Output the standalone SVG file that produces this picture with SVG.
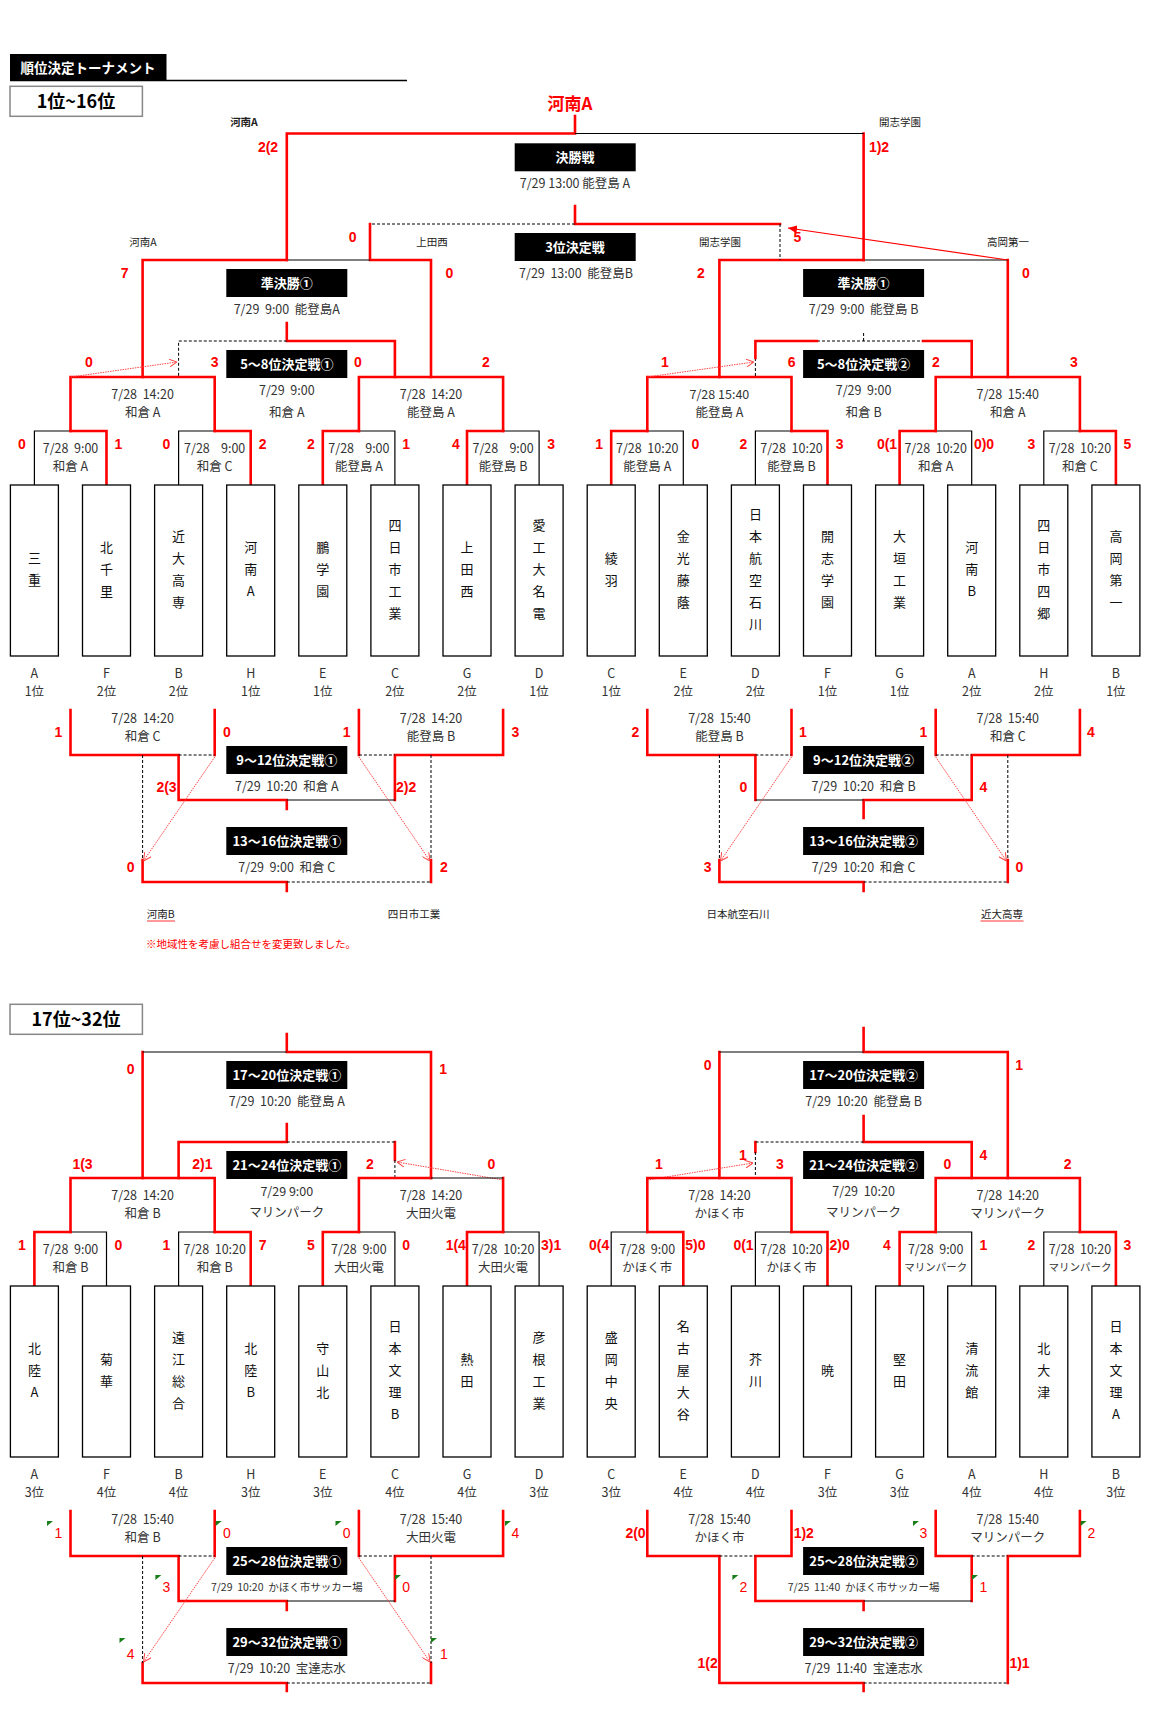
<svg xmlns="http://www.w3.org/2000/svg" width="1160" height="1712" viewBox="0 0 1160 1712">
<defs>
<style>
.r{stroke:#f00;stroke-width:2.6;fill:none;stroke-linecap:square}
.k{stroke:#000;stroke-width:1.2;fill:none}
.d{stroke:#000;stroke-width:1;stroke-dasharray:3 2;fill:none}
.ar{stroke:#f44;stroke-width:1;stroke-dasharray:1.5 1;fill:none}
.tb{fill:#fff;stroke:#000;stroke-width:1.3}
.bt{font-family:"Noto Sans CJK JP",sans-serif;font-weight:bold;font-size:13px;fill:#fff;text-anchor:middle}
.mi{font-family:"Noto Sans CJK JP",sans-serif;font-size:12.5px;fill:#333;text-anchor:middle}
.ms{font-family:"Noto Sans CJK JP",sans-serif;font-size:10.5px;fill:#333;text-anchor:middle}
.sc{font-family:"Liberation Sans",Arial,sans-serif;font-weight:bold;font-size:14px;fill:#f00;text-anchor:middle}
.sn{font-family:"Liberation Sans",Arial,sans-serif;font-size:14px;fill:#f00;text-anchor:middle}
.tn{font-family:"Noto Sans CJK JP",sans-serif;font-size:13px;fill:#111;text-anchor:middle}
.gl{font-family:"Noto Sans CJK JP",sans-serif;font-size:12.5px;fill:#333;text-anchor:middle}
.lb{font-family:"Noto Sans CJK JP",sans-serif;font-size:10.5px;fill:#222;text-anchor:middle}
</style>
<marker id="oa" viewBox="0 0 8 8" refX="8" refY="4" markerWidth="8" markerHeight="8" markerUnits="userSpaceOnUse" orient="auto"><path d="M0,0 L8,4 L0,8" fill="none" stroke="#f44" stroke-width="1"/></marker>
<marker id="fa" viewBox="0 0 9 8" refX="9" refY="4" markerWidth="9" markerHeight="8" markerUnits="userSpaceOnUse" orient="auto"><path d="M0,0 L9,4 L0,8 Z" fill="#f00"/></marker>
<path id="gt" d="M0,0 L6,0 L0,5 Z" fill="#1a7f1a"/>
</defs>
<rect width="1160" height="1712" fill="#fff"/>

<g id="header">
<line x1="10" y1="80.5" x2="407" y2="80.5" stroke="#000" stroke-width="1.3"/>
<rect x="10" y="54" width="156.5" height="26.7" fill="#000"/>
<text x="88" y="72.5" font-family="'Noto Sans CJK JP',sans-serif" font-weight="bold" font-size="13.5" fill="#fff" text-anchor="middle">順位決定トーナメント</text>
<rect x="10" y="86.3" width="132.4" height="30" fill="#fff" stroke="#888" stroke-width="1.5"/>
<text x="76" y="108" font-family="'Noto Sans CJK JP',sans-serif" font-weight="bold" font-size="18" fill="#000" text-anchor="middle">1位~16位</text>
<rect x="10" y="1004.3" width="132.4" height="30" fill="#fff" stroke="#888" stroke-width="1.5"/>
<text x="76" y="1026" font-family="'Noto Sans CJK JP',sans-serif" font-weight="bold" font-size="18" fill="#000" text-anchor="middle">17位~32位</text>
<text x="570" y="109.5" font-family="'Noto Sans CJK JP',sans-serif" font-weight="bold" font-size="17" fill="#f00" text-anchor="middle">河南A</text>
</g>

<g id="connectors">
<path class="k" d="M70.5,431 H34.4 V485 M214.7,431 H178.6 V485 M358.9,431 H394.9 V485 M503.1,431 H539.1 V485 M647.3,431 H683.3 V485 M791.5,431 H755.4 V485 M935.7,431 H971.7 V485 M1079.9,431 H1043.8 V485"/>
<path class="r" d="M70.5,431 H106.5 V485 M214.7,431 H250.7 V485 M358.9,431 H322.8 V485 M503.1,431 H467 V485 M647.3,431 H611.2 V485 M791.5,431 H827.5 V485 M935.7,431 H899.6 V485 M1079.9,431 H1115.9 V485"/>
<path class="r" d="M70.5,431 V377 H214.7 V431 M358.9,431 V377 H503.1 V431 M647.3,431 V377 H791.5 V431 M935.7,431 V377 H1079.9 V431"/>
<path class="r" d="M142.6,377 V260 H286.8 M370,260 H431 V377 M370,224 V260 M719.4,377 V260 H863.6 M1007.8,260 V377"/>
<path class="k" d="M286.8,260 H370 M863.6,260 H1007.8"/>
<path class="r" d="M286.8,260 V133.5 H575 M863.6,133.5 V260 M575,116 V133.5"/>
<path class="k" d="M575,133.5 H863.6"/>
<path class="r" d="M575,206 V224 H780"/>
<path class="d" d="M575,224 H370 M780,224 V260"/>
<line x1="1007.8" y1="260" x2="788" y2="228" stroke="#f00" stroke-width="1.2" marker-end="url(#fa)"/>
<path class="r" d="M286.8,323 V341 H394.9 V377"/>
<path class="d" d="M286.8,341 H178.6 V376"/>
<path class="ar" d="M70.5,377 L177,362" marker-end="url(#oa)"/>
<path class="d" d="M863.6,333 V341 M817,341 H923 M755.4,358 V377"/>
<path class="r" d="M755.4,358 V341 H817 M923,341 H971.7 V377"/>
<path class="ar" d="M647.3,377 L754,362" marker-end="url(#oa)"/>
<path class="r" d="M70.5,710 V755 H178.6 V800 H286.8 M214.7,710 V755 M358.9,710 V755 M503.1,710 V755 H394.9 V800 M286.8,800 V809 M142.6,860 V882 H286.8 M431,860 V882 M286.8,882 V891"/>
<path class="k" d="M286.8,800 H394.9"/>
<path class="d" d="M178.6,755 H214.7 M358.9,755 H394.9 M142.6,755 V860 M286.8,882 H431 M431,755 V860"/>
<path class="ar" d="M214.7,757 L143.5,861" marker-end="url(#oa)"/>
<path class="ar" d="M358.9,757 L430,861" marker-end="url(#oa)"/>
<path class="r" d="M647.3,710 V755 H755.4 V800 M791.5,710 V755 M863.6,800 H971.7 M863.6,800 V818 M935.7,710 V755 M1079.9,710 V755 H971.7 V800 M719.4,860 V882 H863.6 M1007.8,860 V882 M863.6,882 V891"/>
<path class="k" d="M755.4,800 H863.6"/>
<path class="d" d="M755.4,755 H791.5 M935.7,755 H971.7 M719.4,755 V860 M863.6,882 H1007.8 M1007.8,755 V860"/>
<path class="ar" d="M791.5,757 L720.5,861" marker-end="url(#oa)"/>
<path class="ar" d="M935.7,757 L1006.5,861" marker-end="url(#oa)"/>
<path class="r" d="M286.8,1034 V1052 H431 V1178 M142.6,1052 V1178 M286.8,1124 V1142 H178.6 V1178 M394.9,1142 V1160"/>
<path class="k" d="M286.8,1052 H142.6"/>
<path class="d" d="M286.8,1142 H394.9 M394.9,1160 V1178"/>
<path class="ar" d="M503.1,1180 L397,1162" marker-end="url(#oa)"/>
<path class="r" d="M863.6,1028 V1052 H1007.8 V1178 M719.4,1052 V1178 M863.6,1116 V1142 H971.7 V1178 M755.4,1142 V1152"/>
<path class="k" d="M863.6,1052 H719.4"/>
<path class="d" d="M863.6,1142 H755.4 M755.4,1152 V1178"/>
<path class="ar" d="M647.3,1180 L753,1163" marker-end="url(#oa)"/>
<path class="r" d="M70.5,1232 V1178 H214.7 V1232 M358.9,1232 V1178 H431 M503.1,1178 V1232 M647.3,1232 V1178 H791.5 V1232 M935.7,1232 V1178 H1079.9 V1232"/>
<path class="k" d="M431,1178 H503.1"/>
<path class="k" d="M70.5,1232 H106.5 V1286 M214.7,1232 H178.6 V1286 M358.9,1232 H394.9 V1286 M503.1,1232 H539.1 V1286 M647.3,1232 H611.2 V1286 M791.5,1232 H755.4 V1286 M935.7,1232 H971.7 V1286 M1079.9,1232 H1043.8 V1286"/>
<path class="r" d="M70.5,1232 H34.4 V1286 M214.7,1232 H250.7 V1286 M358.9,1232 H322.8 V1286 M503.1,1232 H467 V1286 M647.3,1232 H683.3 V1286 M791.5,1232 H827.5 V1286 M935.7,1232 H899.6 V1286 M1079.9,1232 H1115.9 V1286"/>
<path class="r" d="M70.5,1511 V1556 H178.6 V1601 H286.8 M214.7,1511 V1556 M358.9,1511 V1556 M503.1,1511 V1556 H394.9 V1601 M286.8,1601 V1610 M142.6,1663 V1683 H286.8 M431,1663 V1683 M286.8,1683 V1691"/>
<path class="k" d="M286.8,1601 H394.9"/>
<path class="d" d="M178.6,1556 H214.7 M358.9,1556 H394.9 M142.6,1556 V1663 M286.8,1683 H431 M431,1556 V1663"/>
<path class="ar" d="M214.7,1558 L143.5,1662" marker-end="url(#oa)"/>
<path class="ar" d="M358.9,1558 L430,1662" marker-end="url(#oa)"/>
<path class="r" d="M647.3,1511 V1556 H719.4 M755.4,1556 H791.5 V1511 M755.4,1556 V1601 H863.6 M719.4,1556 V1683 H863.6 M1007.8,1556 V1683 M935.7,1511 V1556 H971.7 V1601 M1007.8,1556 H1079.9 V1511 M863.6,1601 V1610 M863.6,1683 V1691"/>
<path class="k" d="M863.6,1601 H971.7"/>
<path class="d" d="M719.4,1556 H755.4 M971.7,1556 H1007.8 M863.6,1683 H1007.8"/>
</g>

<g id="indicators">
<use href="#gt" x="47" y="1521"/><use href="#gt" x="215.7" y="1521"/><use href="#gt" x="335.5" y="1521"/><use href="#gt" x="505" y="1521"/>
<use href="#gt" x="155.4" y="1575"/><use href="#gt" x="395" y="1575"/><use href="#gt" x="119.5" y="1638"/><use href="#gt" x="431" y="1638"/>
<use href="#gt" x="913" y="1521"/><use href="#gt" x="1080.6" y="1521"/><use href="#gt" x="732.4" y="1575"/><use href="#gt" x="972" y="1575"/>
</g>

<g id="match-boxes">
<rect x="514.7" y="143.3" width="121" height="28" fill="#000"/><text class="bt" x="575" y="162">決勝戦</text>
<text class="mi" x="575" y="187.5">7/29 13:00  能登島 A</text>
<rect x="514.7" y="233" width="121" height="28" fill="#000"/><text class="bt" x="575" y="251.8">3位決定戦</text>
<text class="mi" x="576" y="277.5">7/29&#160; 13:00&#160; 能登島B</text>
<rect x="226.3" y="269" width="121" height="28" fill="#000"/><text class="bt" x="286.8" y="287.8">準決勝①</text>
<text class="mi" x="286.8" y="313.5">7/29&#160; 9:00&#160; 能登島A</text>
<rect x="803.1" y="269" width="121" height="28" fill="#000"/><text class="bt" x="863.6" y="287.8">準決勝①</text>
<text class="mi" x="863.6" y="313.5">7/29&#160; 9:00&#160; 能登島 B</text>
<rect x="226.3" y="350" width="121" height="28" fill="#000"/><text class="bt" x="286.8" y="368.8">5～8位決定戦①</text>
<text class="mi" x="286.8" y="394.5">7/29&#160; 9:00</text><text class="mi" x="286.8" y="416.5">和倉 A</text>
<rect x="803.1" y="350" width="121" height="28" fill="#000"/><text class="bt" x="863.6" y="368.8">5～8位決定戦②</text>
<text class="mi" x="863.6" y="394.5">7/29&#160; 9:00</text><text class="mi" x="863.6" y="416.5">和倉 B</text>
<rect x="226.3" y="746" width="121" height="28" fill="#000"/><text class="bt" x="286.8" y="764.8">9～12位決定戦①</text>
<text class="mi" x="286.8" y="790.5">7/29&#160; 10:20&#160; 和倉 A</text>
<rect x="803.1" y="746" width="121" height="28" fill="#000"/><text class="bt" x="863.6" y="764.8">9～12位決定戦②</text>
<text class="mi" x="863.6" y="790.5">7/29&#160; 10:20&#160; 和倉 B</text>
<rect x="226.3" y="827" width="121" height="28" fill="#000"/><text class="bt" x="286.8" y="845.8">13～16位決定戦①</text>
<text class="mi" x="286.8" y="871.5">7/29&#160; 9:00&#160; 和倉 C</text>
<rect x="803.1" y="827" width="121" height="28" fill="#000"/><text class="bt" x="863.6" y="845.8">13～16位決定戦②</text>
<text class="mi" x="863.6" y="871.5">7/29&#160; 10:20&#160; 和倉 C</text>
<rect x="226.3" y="1061" width="121" height="28" fill="#000"/><text class="bt" x="286.8" y="1079.8">17～20位決定戦①</text>
<text class="mi" x="286.8" y="1105.5">7/29&#160; 10:20&#160; 能登島 A</text>
<rect x="803.1" y="1061" width="121" height="28" fill="#000"/><text class="bt" x="863.6" y="1079.8">17～20位決定戦②</text>
<text class="mi" x="863.6" y="1105.5">7/29&#160; 10:20&#160; 能登島 B</text>
<rect x="226.3" y="1151" width="121" height="28" fill="#000"/><text class="bt" x="286.8" y="1169.8">21～24位決定戦①</text>
<text class="mi" x="286.8" y="1195.5">7/29 9:00</text><text class="mi" x="286.8" y="1216.5">マリンパーク</text>
<rect x="803.1" y="1151" width="121" height="28" fill="#000"/><text class="bt" x="863.6" y="1169.8">21～24位決定戦②</text>
<text class="mi" x="863.6" y="1195.5">7/29&#160; 10:20</text><text class="mi" x="863.6" y="1216.5">マリンパーク</text>
<rect x="226.3" y="1547" width="121" height="28" fill="#000"/><text class="bt" x="286.8" y="1565.8">25～28位決定戦①</text>
<text class="ms" x="286.8" y="1591">7/29&#160; 10:20&#160; かほく市サッカー場</text>
<rect x="803.1" y="1547" width="121" height="28" fill="#000"/><text class="bt" x="863.6" y="1565.8">25～28位決定戦②</text>
<text class="ms" x="863.6" y="1591">7/25&#160; 11:40&#160; かほく市サッカー場</text>
<rect x="226.3" y="1628" width="121" height="28" fill="#000"/><text class="bt" x="286.8" y="1646.8">29～32位決定戦①</text>
<text class="mi" x="286.8" y="1672.5">7/29&#160; 10:20&#160; 宝達志水</text>
<rect x="803.1" y="1628" width="121" height="28" fill="#000"/><text class="bt" x="863.6" y="1646.8">29～32位決定戦②</text>
<text class="mi" x="863.6" y="1672.5">7/29&#160; 11:40&#160; 宝達志水</text>
</g>

<g id="match-info">
<text class="mi" x="142.6" y="398.5">7/28&#160; 14:20</text><text class="mi" x="142.6" y="416.5">和倉 A</text>
<text class="mi" x="431" y="398.5">7/28&#160; 14:20</text><text class="mi" x="431" y="416.5">能登島 A</text>
<text class="mi" x="719.4" y="398.5">7/28 15:40</text><text class="mi" x="719.4" y="416.5">能登島 A</text>
<text class="mi" x="1007.8" y="398.5">7/28&#160; 15:40</text><text class="mi" x="1007.8" y="416.5">和倉 A</text>
<text class="mi" x="70.5" y="452.5">7/28&#160; 9:00</text><text class="mi" x="70.5" y="470.5">和倉 A</text>
<text class="mi" x="214.7" y="452.5">7/28&#160; &#160; 9:00</text><text class="mi" x="214.7" y="470.5">和倉 C</text>
<text class="mi" x="358.9" y="452.5">7/28&#160; &#160; 9:00</text><text class="mi" x="358.9" y="470.5">能登島 A</text>
<text class="mi" x="503.1" y="452.5">7/28&#160; &#160; 9:00</text><text class="mi" x="503.1" y="470.5">能登島 B</text>
<text class="mi" x="647.3" y="452.5">7/28&#160; 10:20</text><text class="mi" x="647.3" y="470.5">能登島 A</text>
<text class="mi" x="791.5" y="452.5">7/28&#160; 10:20</text><text class="mi" x="791.5" y="470.5">能登島 B</text>
<text class="mi" x="935.7" y="452.5">7/28&#160; 10:20</text><text class="mi" x="935.7" y="470.5">和倉 A</text>
<text class="mi" x="1079.9" y="452.5">7/28&#160; 10:20</text><text class="mi" x="1079.9" y="470.5">和倉 C</text>
<text class="mi" x="142.6" y="722.5">7/28&#160; 14:20</text><text class="mi" x="142.6" y="740.5">和倉 C</text>
<text class="mi" x="431" y="722.5">7/28&#160; 14:20</text><text class="mi" x="431" y="740.5">能登島 B</text>
<text class="mi" x="719.4" y="722.5">7/28&#160; 15:40</text><text class="mi" x="719.4" y="740.5">能登島 B</text>
<text class="mi" x="1007.8" y="722.5">7/28&#160; 15:40</text><text class="mi" x="1007.8" y="740.5">和倉 C</text>
<text class="mi" x="142.6" y="1199.5">7/28&#160; 14:20</text><text class="mi" x="142.6" y="1217.5">和倉 B</text>
<text class="mi" x="431" y="1199.5">7/28&#160; 14:20</text><text class="mi" x="431" y="1217.5">大田火電</text>
<text class="mi" x="719.4" y="1199.5">7/28&#160; 14:20</text><text class="mi" x="719.4" y="1217.5">かほく市</text>
<text class="mi" x="1007.8" y="1199.5">7/28&#160; 14:20</text><text class="mi" x="1007.8" y="1217.5">マリンパーク</text>
<text class="mi" x="70.5" y="1253.5">7/28&#160; 9:00</text><text class="mi" x="70.5" y="1271.5">和倉 B</text>
<text class="mi" x="214.7" y="1253.5">7/28&#160; 10:20</text><text class="mi" x="214.7" y="1271.5">和倉 B</text>
<text class="mi" x="358.9" y="1253.5">7/28&#160; 9:00</text><text class="mi" x="358.9" y="1271.5">大田火電</text>
<text class="mi" x="503.1" y="1253.5">7/28&#160; 10:20</text><text class="mi" x="503.1" y="1271.5">大田火電</text>
<text class="mi" x="647.3" y="1253.5">7/28&#160; 9:00</text><text class="mi" x="647.3" y="1271.5">かほく市</text>
<text class="mi" x="791.5" y="1253.5">7/28&#160; 10:20</text><text class="mi" x="791.5" y="1271.5">かほく市</text>
<text class="mi" x="935.7" y="1253.5">7/28&#160; 9:00</text><text class="ms" x="935.7" y="1271">マリンパーク</text>
<text class="mi" x="1079.9" y="1253.5">7/28&#160; 10:20</text><text class="ms" x="1079.9" y="1271">マリンパーク</text>
<text class="mi" x="142.6" y="1523.5">7/28&#160; 15:40</text><text class="mi" x="142.6" y="1541.5">和倉 B</text>
<text class="mi" x="431" y="1523.5">7/28&#160; 15:40</text><text class="mi" x="431" y="1541.5">大田火電</text>
<text class="mi" x="719.4" y="1523.5">7/28&#160; 15:40</text><text class="mi" x="719.4" y="1541.5">かほく市</text>
<text class="mi" x="1007.8" y="1523.5">7/28&#160; 15:40</text><text class="mi" x="1007.8" y="1541.5">マリンパーク</text>
</g>

<g id="scores">
<text class="sc" x="268" y="152">2(2</text><text class="sc" x="879" y="152">1)2</text>
<text class="sc" x="352.6" y="242">0</text><text class="sc" x="797.5" y="242">5</text>
<text class="sc" x="124.7" y="278">7</text><text class="sc" x="449.5" y="278">0</text><text class="sc" x="701" y="278">2</text><text class="sc" x="1025.8" y="278">0</text>
<text class="sc" x="88.8" y="367">0</text><text class="sc" x="214.6" y="367">3</text><text class="sc" x="358" y="367">0</text><text class="sc" x="485.8" y="367">2</text>
<text class="sc" x="665" y="367">1</text><text class="sc" x="791.6" y="367">6</text><text class="sc" x="936" y="367">2</text><text class="sc" x="1074" y="367">3</text>
<text class="sc" x="22" y="449">0</text><text class="sc" x="118.4" y="449">1</text><text class="sc" x="166.5" y="449">0</text><text class="sc" x="262.7" y="449">2</text>
<text class="sc" x="310.8" y="449">2</text><text class="sc" x="406.2" y="449">1</text><text class="sc" x="455.8" y="449">4</text><text class="sc" x="551.2" y="449">3</text>
<text class="sc" x="599.2" y="449">1</text><text class="sc" x="695.4" y="449">0</text><text class="sc" x="743.5" y="449">2</text><text class="sc" x="839.7" y="449">3</text>
<text class="sc" x="887" y="449">0(1</text><text class="sc" x="984" y="449">0)0</text><text class="sc" x="1031.3" y="449">3</text><text class="sc" x="1127.5" y="449">5</text>
<text class="sc" x="58.5" y="737">1</text><text class="sc" x="226.8" y="737">0</text><text class="sc" x="346.7" y="737">1</text><text class="sc" x="515.4" y="737">3</text>
<text class="sc" x="635.5" y="737">2</text><text class="sc" x="803" y="737">1</text><text class="sc" x="923.3" y="737">1</text><text class="sc" x="1091" y="737">4</text>
<text class="sc" x="166.5" y="792">2(3</text><text class="sc" x="406.2" y="792">2)2</text><text class="sc" x="743.5" y="792">0</text><text class="sc" x="983.3" y="792">4</text>
<text class="sc" x="130.6" y="872">0</text><text class="sc" x="444" y="872">2</text><text class="sc" x="707.6" y="872">3</text><text class="sc" x="1019.5" y="872">0</text>
<text class="sc" x="130.6" y="1074">0</text><text class="sc" x="443.2" y="1074">1</text><text class="sc" x="707.6" y="1070">0</text><text class="sc" x="1019.1" y="1070">1</text>
<text class="sc" x="82.5" y="1169">1(3</text><text class="sc" x="202.4" y="1169">2)1</text><text class="sc" x="370" y="1169">2</text><text class="sc" x="491.3" y="1169">0</text>
<text class="sc" x="658.8" y="1169">1</text><text class="sc" x="742.8" y="1160">1</text><text class="sc" x="779.8" y="1169">3</text><text class="sc" x="947.4" y="1169">0</text><text class="sc" x="983.3" y="1160">4</text><text class="sc" x="1067.6" y="1169">2</text>
<text class="sc" x="22" y="1250">1</text><text class="sc" x="118.4" y="1250">0</text><text class="sc" x="166.5" y="1250">1</text><text class="sc" x="262.7" y="1250">7</text>
<text class="sc" x="310.8" y="1250">5</text><text class="sc" x="406.2" y="1250">0</text><text class="sc" x="455.8" y="1250">1(4</text><text class="sc" x="551.2" y="1250">3)1</text>
<text class="sc" x="599.2" y="1250">0(4</text><text class="sc" x="695.4" y="1250">5)0</text><text class="sc" x="743.5" y="1250">0(1</text><text class="sc" x="839.7" y="1250">2)0</text>
<text class="sc" x="887" y="1250">4</text><text class="sc" x="983.3" y="1250">1</text><text class="sc" x="1031.3" y="1250">2</text><text class="sc" x="1127.5" y="1250">3</text>
<text class="sn" x="58.5" y="1538">1</text><text class="sn" x="226.8" y="1538">0</text><text class="sn" x="346.7" y="1538">0</text><text class="sn" x="515.4" y="1538">4</text>
<text class="sc" x="635.5" y="1538">2(0</text><text class="sc" x="803.8" y="1538">1)2</text><text class="sn" x="923.3" y="1538">3</text><text class="sn" x="1091.3" y="1538">2</text>
<text class="sn" x="166.5" y="1592">3</text><text class="sn" x="406.2" y="1592">0</text><text class="sn" x="743.5" y="1592">2</text><text class="sn" x="983.3" y="1592">1</text>
<text class="sn" x="130.6" y="1659">4</text><text class="sn" x="444" y="1659">1</text><text class="sc" x="707.6" y="1668">1(2</text><text class="sc" x="1019.5" y="1668">1)1</text>
</g>

<g id="bracket-labels">
<text class="lb" x="244" y="126" font-weight="bold">河南A</text><text class="lb" x="900" y="126">開志学園</text>
<text class="lb" x="143" y="246">河南A</text><text class="lb" x="432" y="246">上田西</text>
<text class="lb" x="720" y="246">開志学園</text><text class="lb" x="1008" y="246">高岡第一</text>
<text class="lb" x="160.8" y="918" font-size="11" fill="#f00">河南B</text>
<text class="lb" x="414" y="918" font-size="11">四日市工業</text>
<text class="lb" x="738" y="918" font-size="11">日本航空石川</text>
<text class="lb" x="1002" y="918" font-size="11" fill="#f00">近大高専</text>
<line x1="147" y1="921" x2="175" y2="921" stroke="#f00" stroke-width="0.8"/>
<line x1="980.5" y1="921" x2="1023.5" y2="921" stroke="#f00" stroke-width="0.8"/>
<text x="146" y="948" font-family="'Noto Sans CJK JP',sans-serif" font-size="10.5" fill="#f00">※地域性を考慮し組合せを変更致しました。</text>
</g>

<g id="teams-1">
<g id="t1-01"><rect class="tb" x="10.4" y="485" width="48" height="171"/><text class="tn"><tspan x="34.4" y="563.3">三</tspan><tspan x="34.4" y="585.3">重</tspan></text><text class="gl" x="34.4" y="677.5">A</text><text class="gl" x="34.4" y="695.5">1位</text></g>
<g id="t1-02"><rect class="tb" x="82.5" y="485" width="48" height="171"/><text class="tn"><tspan x="106.5" y="552.3">北</tspan><tspan x="106.5" y="574.3">千</tspan><tspan x="106.5" y="596.3">里</tspan></text><text class="gl" x="106.5" y="677.5">F</text><text class="gl" x="106.5" y="695.5">2位</text></g>
<g id="t1-03"><rect class="tb" x="154.6" y="485" width="48" height="171"/><text class="tn"><tspan x="178.6" y="541.3">近</tspan><tspan x="178.6" y="563.3">大</tspan><tspan x="178.6" y="585.3">高</tspan><tspan x="178.6" y="607.3">専</tspan></text><text class="gl" x="178.6" y="677.5">B</text><text class="gl" x="178.6" y="695.5">2位</text></g>
<g id="t1-04"><rect class="tb" x="226.7" y="485" width="48" height="171"/><text class="tn"><tspan x="250.7" y="552.3">河</tspan><tspan x="250.7" y="574.3">南</tspan><tspan x="250.7" y="596.3">A</tspan></text><text class="gl" x="250.7" y="677.5">H</text><text class="gl" x="250.7" y="695.5">1位</text></g>
<g id="t1-05"><rect class="tb" x="298.8" y="485" width="48" height="171"/><text class="tn"><tspan x="322.8" y="552.3">鵬</tspan><tspan x="322.8" y="574.3">学</tspan><tspan x="322.8" y="596.3">園</tspan></text><text class="gl" x="322.8" y="677.5">E</text><text class="gl" x="322.8" y="695.5">1位</text></g>
<g id="t1-06"><rect class="tb" x="370.9" y="485" width="48" height="171"/><text class="tn"><tspan x="394.9" y="530.3">四</tspan><tspan x="394.9" y="552.3">日</tspan><tspan x="394.9" y="574.3">市</tspan><tspan x="394.9" y="596.3">工</tspan><tspan x="394.9" y="618.3">業</tspan></text><text class="gl" x="394.9" y="677.5">C</text><text class="gl" x="394.9" y="695.5">2位</text></g>
<g id="t1-07"><rect class="tb" x="443" y="485" width="48" height="171"/><text class="tn"><tspan x="467" y="552.3">上</tspan><tspan x="467" y="574.3">田</tspan><tspan x="467" y="596.3">西</tspan></text><text class="gl" x="467" y="677.5">G</text><text class="gl" x="467" y="695.5">2位</text></g>
<g id="t1-08"><rect class="tb" x="515.1" y="485" width="48" height="171"/><text class="tn"><tspan x="539.1" y="530.3">愛</tspan><tspan x="539.1" y="552.3">工</tspan><tspan x="539.1" y="574.3">大</tspan><tspan x="539.1" y="596.3">名</tspan><tspan x="539.1" y="618.3">電</tspan></text><text class="gl" x="539.1" y="677.5">D</text><text class="gl" x="539.1" y="695.5">1位</text></g>
<g id="t1-09"><rect class="tb" x="587.2" y="485" width="48" height="171"/><text class="tn"><tspan x="611.2" y="563.3">綾</tspan><tspan x="611.2" y="585.3">羽</tspan></text><text class="gl" x="611.2" y="677.5">C</text><text class="gl" x="611.2" y="695.5">1位</text></g>
<g id="t1-10"><rect class="tb" x="659.3" y="485" width="48" height="171"/><text class="tn"><tspan x="683.3" y="541.3">金</tspan><tspan x="683.3" y="563.3">光</tspan><tspan x="683.3" y="585.3">藤</tspan><tspan x="683.3" y="607.3">蔭</tspan></text><text class="gl" x="683.3" y="677.5">E</text><text class="gl" x="683.3" y="695.5">2位</text></g>
<g id="t1-11"><rect class="tb" x="731.4" y="485" width="48" height="171"/><text class="tn"><tspan x="755.4" y="519.3">日</tspan><tspan x="755.4" y="541.3">本</tspan><tspan x="755.4" y="563.3">航</tspan><tspan x="755.4" y="585.3">空</tspan><tspan x="755.4" y="607.3">石</tspan><tspan x="755.4" y="629.3">川</tspan></text><text class="gl" x="755.4" y="677.5">D</text><text class="gl" x="755.4" y="695.5">2位</text></g>
<g id="t1-12"><rect class="tb" x="803.5" y="485" width="48" height="171"/><text class="tn"><tspan x="827.5" y="541.3">開</tspan><tspan x="827.5" y="563.3">志</tspan><tspan x="827.5" y="585.3">学</tspan><tspan x="827.5" y="607.3">園</tspan></text><text class="gl" x="827.5" y="677.5">F</text><text class="gl" x="827.5" y="695.5">1位</text></g>
<g id="t1-13"><rect class="tb" x="875.6" y="485" width="48" height="171"/><text class="tn"><tspan x="899.6" y="541.3">大</tspan><tspan x="899.6" y="563.3">垣</tspan><tspan x="899.6" y="585.3">工</tspan><tspan x="899.6" y="607.3">業</tspan></text><text class="gl" x="899.6" y="677.5">G</text><text class="gl" x="899.6" y="695.5">1位</text></g>
<g id="t1-14"><rect class="tb" x="947.7" y="485" width="48" height="171"/><text class="tn"><tspan x="971.7" y="552.3">河</tspan><tspan x="971.7" y="574.3">南</tspan><tspan x="971.7" y="596.3">B</tspan></text><text class="gl" x="971.7" y="677.5">A</text><text class="gl" x="971.7" y="695.5">2位</text></g>
<g id="t1-15"><rect class="tb" x="1019.8" y="485" width="48" height="171"/><text class="tn"><tspan x="1043.8" y="530.3">四</tspan><tspan x="1043.8" y="552.3">日</tspan><tspan x="1043.8" y="574.3">市</tspan><tspan x="1043.8" y="596.3">四</tspan><tspan x="1043.8" y="618.3">郷</tspan></text><text class="gl" x="1043.8" y="677.5">H</text><text class="gl" x="1043.8" y="695.5">2位</text></g>
<g id="t1-16"><rect class="tb" x="1091.9" y="485" width="48" height="171"/><text class="tn"><tspan x="1115.9" y="541.3">高</tspan><tspan x="1115.9" y="563.3">岡</tspan><tspan x="1115.9" y="585.3">第</tspan><tspan x="1115.9" y="607.3">一</tspan></text><text class="gl" x="1115.9" y="677.5">B</text><text class="gl" x="1115.9" y="695.5">1位</text></g>
</g>

<g id="teams-2">
<g id="t2-01"><rect class="tb" x="10.4" y="1286" width="48" height="171"/><text class="tn"><tspan x="34.4" y="1353.3">北</tspan><tspan x="34.4" y="1375.3">陸</tspan><tspan x="34.4" y="1397.3">A</tspan></text><text class="gl" x="34.4" y="1478.5">A</text><text class="gl" x="34.4" y="1496.5">3位</text></g>
<g id="t2-02"><rect class="tb" x="82.5" y="1286" width="48" height="171"/><text class="tn"><tspan x="106.5" y="1364.3">菊</tspan><tspan x="106.5" y="1386.3">華</tspan></text><text class="gl" x="106.5" y="1478.5">F</text><text class="gl" x="106.5" y="1496.5">4位</text></g>
<g id="t2-03"><rect class="tb" x="154.6" y="1286" width="48" height="171"/><text class="tn"><tspan x="178.6" y="1342.3">遠</tspan><tspan x="178.6" y="1364.3">江</tspan><tspan x="178.6" y="1386.3">総</tspan><tspan x="178.6" y="1408.3">合</tspan></text><text class="gl" x="178.6" y="1478.5">B</text><text class="gl" x="178.6" y="1496.5">4位</text></g>
<g id="t2-04"><rect class="tb" x="226.7" y="1286" width="48" height="171"/><text class="tn"><tspan x="250.7" y="1353.3">北</tspan><tspan x="250.7" y="1375.3">陸</tspan><tspan x="250.7" y="1397.3">B</tspan></text><text class="gl" x="250.7" y="1478.5">H</text><text class="gl" x="250.7" y="1496.5">3位</text></g>
<g id="t2-05"><rect class="tb" x="298.8" y="1286" width="48" height="171"/><text class="tn"><tspan x="322.8" y="1353.3">守</tspan><tspan x="322.8" y="1375.3">山</tspan><tspan x="322.8" y="1397.3">北</tspan></text><text class="gl" x="322.8" y="1478.5">E</text><text class="gl" x="322.8" y="1496.5">3位</text></g>
<g id="t2-06"><rect class="tb" x="370.9" y="1286" width="48" height="171"/><text class="tn"><tspan x="394.9" y="1331.3">日</tspan><tspan x="394.9" y="1353.3">本</tspan><tspan x="394.9" y="1375.3">文</tspan><tspan x="394.9" y="1397.3">理</tspan><tspan x="394.9" y="1419.3">B</tspan></text><text class="gl" x="394.9" y="1478.5">C</text><text class="gl" x="394.9" y="1496.5">4位</text></g>
<g id="t2-07"><rect class="tb" x="443" y="1286" width="48" height="171"/><text class="tn"><tspan x="467" y="1364.3">熱</tspan><tspan x="467" y="1386.3">田</tspan></text><text class="gl" x="467" y="1478.5">G</text><text class="gl" x="467" y="1496.5">4位</text></g>
<g id="t2-08"><rect class="tb" x="515.1" y="1286" width="48" height="171"/><text class="tn"><tspan x="539.1" y="1342.3">彦</tspan><tspan x="539.1" y="1364.3">根</tspan><tspan x="539.1" y="1386.3">工</tspan><tspan x="539.1" y="1408.3">業</tspan></text><text class="gl" x="539.1" y="1478.5">D</text><text class="gl" x="539.1" y="1496.5">3位</text></g>
<g id="t2-09"><rect class="tb" x="587.2" y="1286" width="48" height="171"/><text class="tn"><tspan x="611.2" y="1342.3">盛</tspan><tspan x="611.2" y="1364.3">岡</tspan><tspan x="611.2" y="1386.3">中</tspan><tspan x="611.2" y="1408.3">央</tspan></text><text class="gl" x="611.2" y="1478.5">C</text><text class="gl" x="611.2" y="1496.5">3位</text></g>
<g id="t2-10"><rect class="tb" x="659.3" y="1286" width="48" height="171"/><text class="tn"><tspan x="683.3" y="1331.3">名</tspan><tspan x="683.3" y="1353.3">古</tspan><tspan x="683.3" y="1375.3">屋</tspan><tspan x="683.3" y="1397.3">大</tspan><tspan x="683.3" y="1419.3">谷</tspan></text><text class="gl" x="683.3" y="1478.5">E</text><text class="gl" x="683.3" y="1496.5">4位</text></g>
<g id="t2-11"><rect class="tb" x="731.4" y="1286" width="48" height="171"/><text class="tn"><tspan x="755.4" y="1364.3">芥</tspan><tspan x="755.4" y="1386.3">川</tspan></text><text class="gl" x="755.4" y="1478.5">D</text><text class="gl" x="755.4" y="1496.5">4位</text></g>
<g id="t2-12"><rect class="tb" x="803.5" y="1286" width="48" height="171"/><text class="tn"><tspan x="827.5" y="1375.3">暁</tspan></text><text class="gl" x="827.5" y="1478.5">F</text><text class="gl" x="827.5" y="1496.5">3位</text></g>
<g id="t2-13"><rect class="tb" x="875.6" y="1286" width="48" height="171"/><text class="tn"><tspan x="899.6" y="1364.3">堅</tspan><tspan x="899.6" y="1386.3">田</tspan></text><text class="gl" x="899.6" y="1478.5">G</text><text class="gl" x="899.6" y="1496.5">3位</text></g>
<g id="t2-14"><rect class="tb" x="947.7" y="1286" width="48" height="171"/><text class="tn"><tspan x="971.7" y="1353.3">清</tspan><tspan x="971.7" y="1375.3">流</tspan><tspan x="971.7" y="1397.3">館</tspan></text><text class="gl" x="971.7" y="1478.5">A</text><text class="gl" x="971.7" y="1496.5">4位</text></g>
<g id="t2-15"><rect class="tb" x="1019.8" y="1286" width="48" height="171"/><text class="tn"><tspan x="1043.8" y="1353.3">北</tspan><tspan x="1043.8" y="1375.3">大</tspan><tspan x="1043.8" y="1397.3">津</tspan></text><text class="gl" x="1043.8" y="1478.5">H</text><text class="gl" x="1043.8" y="1496.5">4位</text></g>
<g id="t2-16"><rect class="tb" x="1091.9" y="1286" width="48" height="171"/><text class="tn"><tspan x="1115.9" y="1331.3">日</tspan><tspan x="1115.9" y="1353.3">本</tspan><tspan x="1115.9" y="1375.3">文</tspan><tspan x="1115.9" y="1397.3">理</tspan><tspan x="1115.9" y="1419.3">A</tspan></text><text class="gl" x="1115.9" y="1478.5">B</text><text class="gl" x="1115.9" y="1496.5">3位</text></g>
</g>
</svg>
